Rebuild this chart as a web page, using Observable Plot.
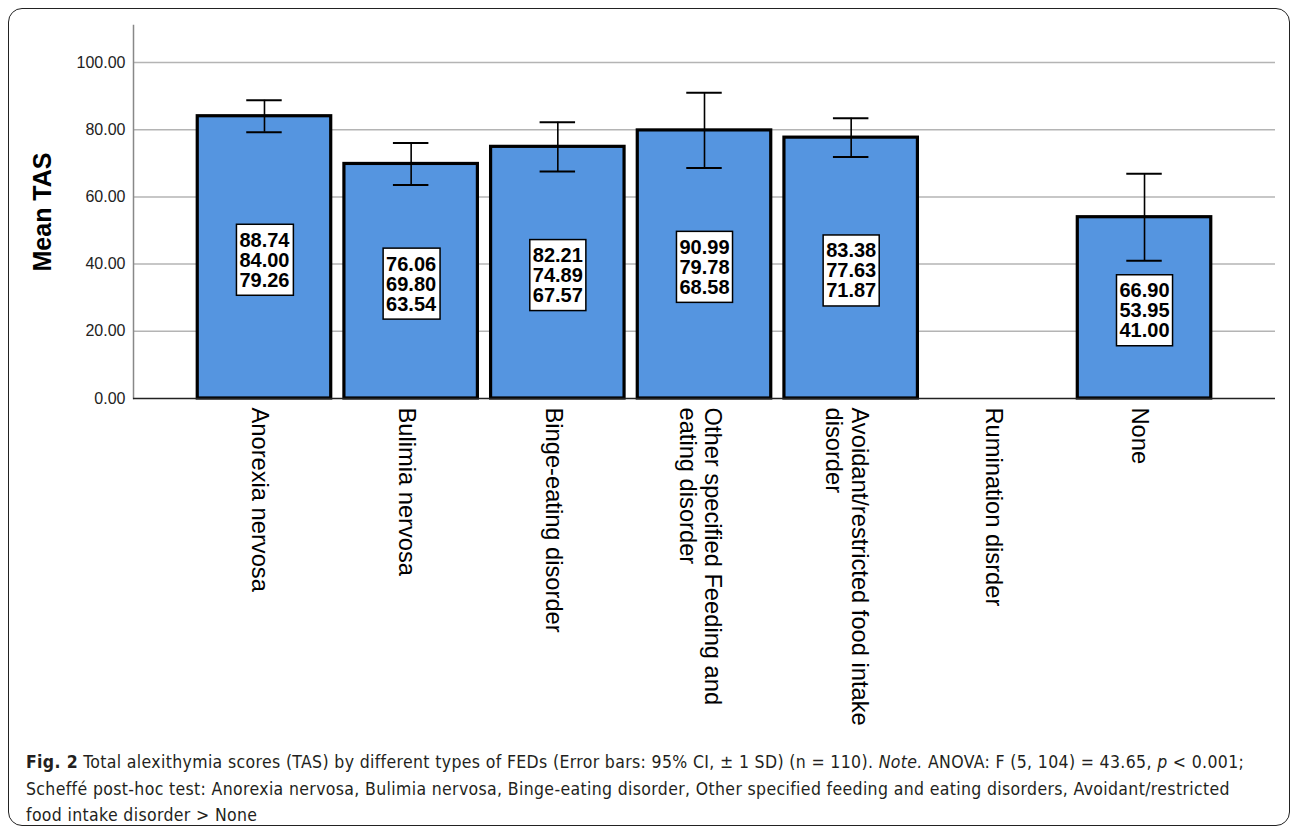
<!DOCTYPE html>
<html>
<head>
<meta charset="utf-8">
<script src="https://cdn.jsdelivr.net/npm/d3@7"></script>
<script src="https://cdn.jsdelivr.net/npm/@observablehq/plot@0.6"></script>
<style>
  html, body { margin: 0; padding: 0; background: #fff; }
  #page { position: relative; width: 1292px; height: 835px; overflow: hidden; font-family: "Liberation Sans", Arial, sans-serif; }
  #frame { position: absolute; left: 8px; top: 8px; width: 1282px; height: 818px; border: 1.5px solid #222; border-radius: 14px; box-sizing: border-box; }
  #chart { position: absolute; left: 0; top: 0; }
  #caption { position: absolute; left: 26px; top: 749px; font-family: "Liberation Sans Narrow", "DejaVu Sans Condensed", "Open Sans", sans-serif; font-size: 17.5px; letter-spacing: 0.35px; line-height: 26.5px; color: #231f20; white-space: nowrap; }
</style>
</head>
<body>
<div id="page">
  <div id="frame"></div>
  <div id="chart"></div>
  <div id="caption">
    <div><b>Fig. 2</b> Total alexithymia scores (TAS) by different types of FEDs (Error bars: 95% CI, ± 1 SD) (n = 110). <i>Note.</i> ANOVA: F (5, 104) = 43.65, <i>p</i> &lt; 0.001;</div>
    <div>Scheffé post-hoc test: Anorexia nervosa, Bulimia nervosa, Binge-eating disorder, Other specified feeding and eating disorders, Avoidant/restricted</div>
    <div>food intake disorder &gt; None</div>
  </div>
</div>
<script>
const categories = ["Anorexia nervosa", "Bulimia nervosa", "Binge-eating disorder", "Other specified Feeding and eating disorder", "Avoidant/restricted food intake disorder", "Rumination disrder", "None"];
const tickLabels = ["Anorexia nervosa", "Bulimia nervosa", "Binge-eating disorder", "Other specified Feeding and\neating disorder", "Avoidant/restricted food intake\ndisorder", "Rumination disrder", "None"];
const means = [84.00, 69.80, 74.89, 79.78, 77.63, null, 53.95];
const upper = [88.74, 76.06, 82.21, 90.99, 83.38, null, 66.90];
const lower = [79.26, 63.54, 67.57, 68.58, 71.87, null, 41.00];
const yTicks = [0, 20, 40, 60, 80, 100];

const rows = categories.map((c, i) => ({cat: c, label: tickLabels[i], mean: means[i], upper: upper[i], lower: lower[i]}));
const valid = rows.filter(d => d.mean != null);

const W = 1292, H = 740;
const plot = Plot.plot({
  width: W,
  height: H,
  marginLeft: 133,
  marginRight: 17,
  marginTop: 25,
  marginBottom: H - 398,
  style: {fontFamily: "'Liberation Sans', Arial, sans-serif", background: "transparent"},
  x: {type: "band", domain: categories, paddingInner: 0.09, paddingOuter: 0.438, round: false, axis: null},
  y: {domain: [0, 111], ticks: yTicks, tickFormat: d => d.toFixed(2), tickSize: 0, tickPadding: 8, label: null},
  marks: [
    Plot.gridY(yTicks.filter(t => t > 0), {stroke: "#b4b4b4", strokeOpacity: 1, strokeWidth: 1.5}),
    Plot.axisY({ticks: yTicks, tickFormat: d => d.toFixed(2), tickSize: 0, tickPadding: 8, fontSize: 16, color: "#222", label: null}),
    Plot.frame({anchor: "left", stroke: "#888", strokeWidth: 1.5}),
    Plot.barY(valid, {x: "cat", y: "mean", fill: "#5595e0", stroke: "#000", strokeWidth: 3.2}),
    Plot.ruleX(valid, {x: "cat", y1: "lower", y2: "upper", stroke: "#000", strokeWidth: 1.6}),
    Plot.tickY(valid, {x: "cat", y: "upper", stroke: "#000", strokeWidth: 2, insetLeft: 49, insetRight: 49}),
    Plot.tickY(valid, {x: "cat", y: "lower", stroke: "#000", strokeWidth: 2, insetLeft: 49, insetRight: 49}),
    Plot.ruleY([0], {stroke: "#222", strokeWidth: 1.5}),
    Plot.text(valid, {
      x: "cat", y: d => d.mean / 2,
      text: d => `${d.upper.toFixed(2)}\n${d.mean.toFixed(2)}\n${d.lower.toFixed(2)}`,
      fontSize: 20, fontWeight: "bold", lineHeight: 1.0, fill: "#000", dy: 3
    }),
    Plot.text(rows, {
      x: "cat", frameAnchor: "bottom", text: "label",
      rotate: 90, textAnchor: "start", lineAnchor: "middle",
      fontSize: 23.7, lineHeight: 1.08, fill: "#000", dy: 9, dx: -4
    }),
    Plot.text(["Mean TAS"], {
      frameAnchor: "left", rotate: -90, textAnchor: "middle",
      fontSize: 25, fontWeight: "bold", fill: "#000", dx: -91
    })
  ]
});
document.getElementById("chart").appendChild(plot);

// white label boxes behind the three-line CI texts, sized from the rendered text
const ns = "http://www.w3.org/2000/svg";
Array.from(plot.querySelectorAll("text"))
  .filter(t => t.querySelectorAll("tspan").length === 3)
  .forEach(t => {
    const b = t.getBBox();
    const r = document.createElementNS(ns, "rect");
    const padX = 3, padY = 4.5;
    r.setAttribute("x", b.x - padX);
    r.setAttribute("y", b.y - padY);
    r.setAttribute("width", b.width + 2 * padX);
    r.setAttribute("height", b.height + 2 * padY);
    r.setAttribute("fill", "#fff");
    r.setAttribute("stroke", "#000");
    r.setAttribute("stroke-width", "1.5");
    const tr = t.getAttribute("transform");
    if (tr) r.setAttribute("transform", tr);
    t.parentNode.insertBefore(r, t);
  });
</script>
</body>
</html>
